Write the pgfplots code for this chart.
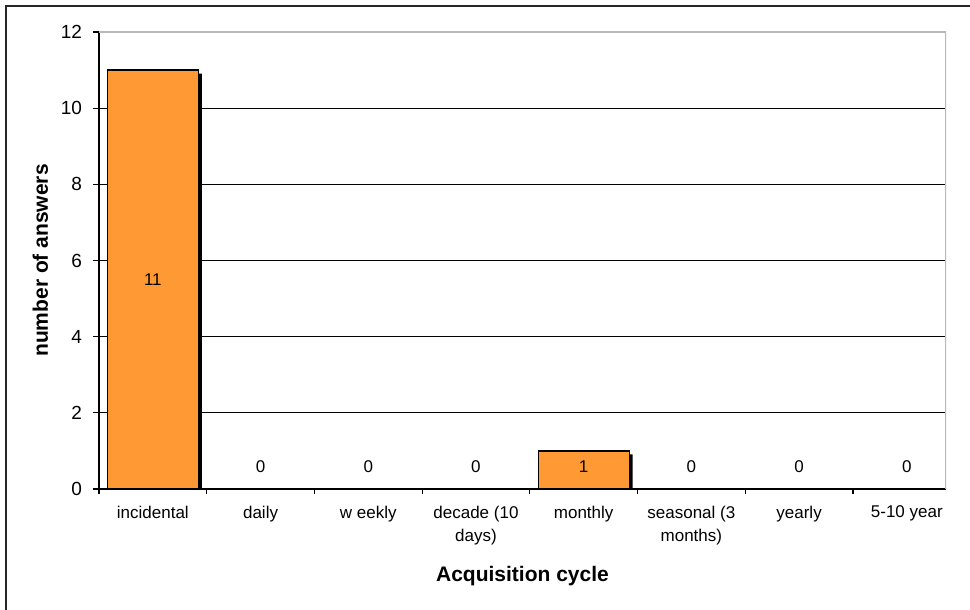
\documentclass[border=0pt]{standalone}
\usepackage{fontspec}
\setmainfont{Liberation Sans}
\usepackage{pgfplots}
\usepackage{pgfplotstable}
\pgfplotsset{compat=1.18}
\definecolor{barorange}{RGB}{255,153,51}
\pgfplotstableread{
x y
0 11
1 0
2 0
3 0
4 1
5 0
6 0
7 0
}\datatable
\pgfplotstableread{
x pos v
0 5.5 11
1 0.58 0
2 0.58 0
3 0.58 0
4 0.58 1
5 0.58 0
6 0.58 0
7 0.58 0
}\labeltable
\begin{document}
\begin{tikzpicture}
\begin{axis}[
  at={(0,0)}, anchor=south west,
  scale only axis,
  width=423.5pt, height=228.5pt,
  xmin=-0.5, xmax=7.364, ymin=0, ymax=12,
  axis x line*=bottom, axis y line*=left,
  axis line style={black, line width=0.6pt},
  xtick={0,...,7},
  xticklabels={incidental, daily, w eekly, {decade (10\\days)}, monthly, {seasonal (3\\months)}, yearly, 5-10 year},
  xticklabel style={align=center, font=\fontsize{8.5}{11.5}\selectfont, yshift=-2pt},
  major x tick style={draw=none},
  minor xtick={-0.5,0.5,...,6.5},
  minor tick length=2.5pt,
  ytick={0,2,...,12},
  yticklabel style={font=\fontsize{9.5}{11}\selectfont, xshift=-2pt},
  tick align=outside,
  major tick length=3pt,
  tick style={black, line width=0.6pt},
  ymajorgrids,
  grid style={black, line width=0.6pt},
  /pgf/number format/assume math mode=true,
  xlabel={\textbf{Acquisition cycle}},
  ylabel={\textbf{number of answers}},
  label style={font=\fontsize{10.5}{12}\selectfont},
  xlabel style={yshift=-4pt},
  ylabel style={yshift=-0.5pt},
  ybar, bar width=45.5pt,
  clip=true,
]
\addplot[fill=black, draw=none, bar shift=1.75pt, yshift=-1.75pt] table[x=x, y=y] {\datatable};
\addplot[fill=barorange, draw=black, line width=0.6pt, bar shift=0pt] table[x=x, y=y] {\datatable};
\addplot[only marks, mark=none, nodes near coords, point meta=explicit symbolic,
  nodes near coords style={anchor=center, font=\fontsize{8.5}{10}\selectfont, text=black}]
  table[x=x, y=pos, meta=v] {\labeltable};
\draw[gray!55, line width=1pt] (rel axis cs:0,1) -- (rel axis cs:1,1) -- (rel axis cs:1,0);
\end{axis}
\draw[line width=1pt, black!85] (-46.5pt,-62pt) -- (-46.5pt,241.5pt) -- (440pt,241.5pt);
\pgfresetboundingbox
\useasboundingbox (-49.5pt,-60.5pt) rectangle (435.5pt,244.5pt);
\end{tikzpicture}
\end{document}
